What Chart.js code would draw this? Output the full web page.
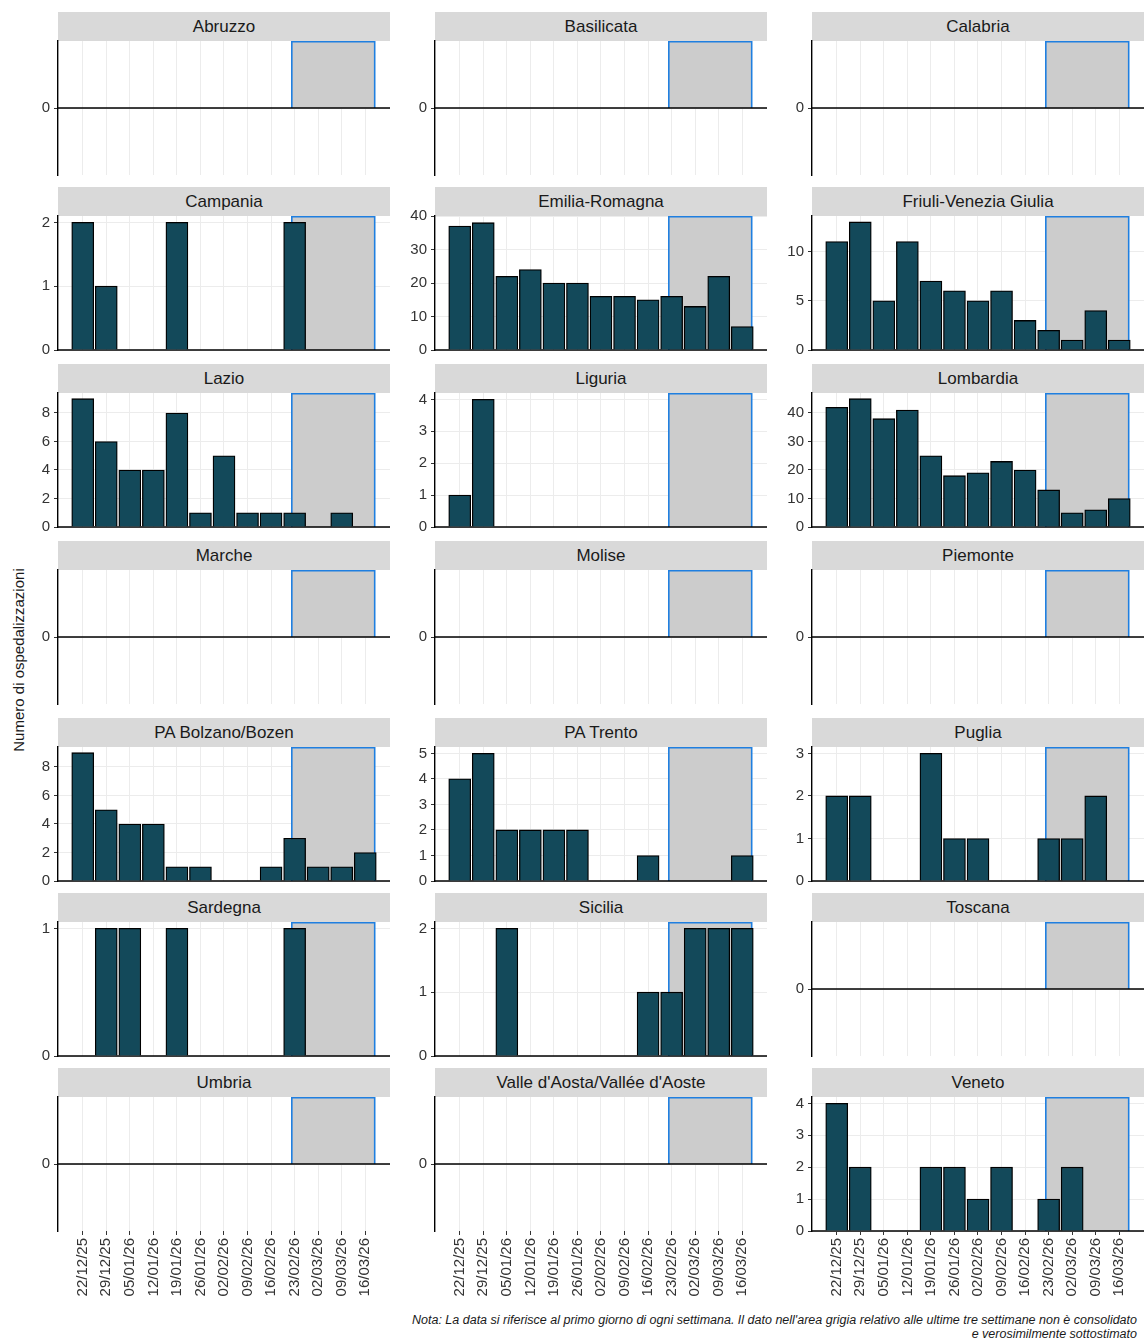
<!DOCTYPE html>
<html>
<head>
<meta charset="utf-8">
<script src="https://cdn.jsdelivr.net/npm/chart.js@4/dist/chart.umd.min.js"></script>
<style>
  body { margin: 0; background: #fff; font-family: "Liberation Sans", Arial, sans-serif; }
  #wrap { position: relative; width: 1147px; height: 1342px; }
  .strip { position: absolute; background: #d9d9d9; color: #1a1a1a; font-size: 17px;
           text-align: center; line-height: 29px; height: 29px; }
  .box { position: absolute; }
  #ylab { position: absolute; left: 18px; top: 660px; transform: translate(-50%, -50%) rotate(-90deg);
          font-size: 15px; white-space: nowrap; color: #1a1a1a; }
  #note { position: absolute; right: 10px; top: 1313px; font-size: 12.5px; font-style: italic;
          text-align: right; line-height: 14px; color: #1a1a1a; }
</style>
</head>
<body>
<div id="wrap">
  <div id="ylab">Numero di ospedalizzazioni</div>
  <div id="note">Nota: La data si riferisce al primo giorno di ogni settimana. Il dato nell'area grigia relativo alle ultime tre settimane non è consolidato<br>e verosimilmente sottostimato</div>
</div>
<script>
const weeks = ['22/12/25', '29/12/25', '05/01/26', '12/01/26', '19/01/26', '26/01/26', '02/02/26',
               '09/02/26', '16/02/26', '23/02/26', '02/03/26', '09/03/26', '16/03/26'];

const regions = ['Abruzzo', 'Basilicata', 'Calabria', 'Campania', 'Emilia-Romagna', 'Friuli-Venezia Giulia',
                 'Lazio', 'Liguria', 'Lombardia', 'Marche', 'Molise', 'Piemonte',
                 'PA Bolzano/Bozen', 'PA Trento', 'Puglia', 'Sardegna', 'Sicilia', 'Toscana',
                 'Umbria', "Valle d'Aosta/Vallée d'Aoste", 'Veneto'];

const zeros = [0, 0, 0, 0, 0, 0, 0, 0, 0, 0, 0, 0, 0];
const campania = [2, 1, 0, 0, 2, 0, 0, 0, 0, 2, 0, 0, 0];
const emilia = [37, 38, 22, 24, 20, 20, 16, 16, 15, 16, 13, 22, 7];
const friuli = [11, 13, 5, 11, 7, 6, 5, 6, 3, 2, 1, 4, 1];
const lazio = [9, 6, 4, 4, 8, 1, 5, 1, 1, 1, 0, 1, 0];
const liguria = [1, 4, 0, 0, 0, 0, 0, 0, 0, 0, 0, 0, 0];
const lombardia = [42, 45, 38, 41, 25, 18, 19, 23, 20, 13, 5, 6, 10];
const bolzano = [9, 5, 4, 4, 1, 1, 0, 0, 1, 3, 1, 1, 2];
const trento = [4, 5, 2, 2, 2, 2, 0, 0, 1, 0, 0, 0, 1];
const puglia = [2, 2, 0, 0, 3, 1, 1, 0, 0, 1, 1, 2, 0];
const sardegna = [0, 1, 1, 0, 1, 0, 0, 0, 0, 1, 0, 0, 0];
const sicilia = [0, 0, 2, 0, 0, 0, 0, 0, 1, 1, 2, 2, 2];
const veneto = [4, 2, 0, 0, 2, 2, 1, 2, 0, 1, 2, 0, 0];

const values = [zeros, zeros, zeros, campania, emilia, friuli, lazio, liguria, lombardia,
                zeros, zeros, zeros, bolzano, trento, puglia, sardegna, sicilia, zeros,
                zeros, zeros, veneto];
// y max and tick step per panel (null = all zero panel)
const yMax = [null, null, null, 2.1, 40, 13.6, 9.4, 4.2, 47, null, null, null,
              9.4, 5.25, 3.15, 1.05, 2.1, null, null, null, 4.2];
const yStep = [null, null, null, 1, 10, 5, 2, 1, 10, null, null, null,
               2, 1, 1, 1, 1, null, null, null, 1];

// grey "not consolidated" area, in week-index units
const greyFrom = 8.88;
const greyTo = 12.4;

const colLeft = [58, 435, 812];
const plotW = 332;
const rowTop = [12, 187, 364, 541, 718, 893, 1068];
const stripH = 29;
const plotH = 134;
const axisW = 45;
const pad = 9;

const greyPlugin = {
  id: 'grey',
  beforeDatasetsDraw(chart) {
    const x = chart.scales.x, y = chart.scales.y, ctx = chart.ctx;
    const x0 = x.getPixelForValue(greyFrom), x1 = x.getPixelForValue(greyTo);
    const top = chart.chartArea.top + 0.8, bot = y.getPixelForValue(0);
    ctx.save();
    ctx.fillStyle = '#cccccc';
    ctx.fillRect(x0, top, x1 - x0, bot - top);
    ctx.strokeStyle = '#1f7fe0';
    ctx.lineWidth = 1.6;
    ctx.beginPath();
    ctx.moveTo(x0, bot); ctx.lineTo(x0, top); ctx.lineTo(x1, top); ctx.lineTo(x1, bot);
    ctx.stroke();
    ctx.strokeStyle = '#000';
    ctx.lineWidth = 1.4;
    ctx.beginPath();
    ctx.moveTo(chart.chartArea.left, bot); ctx.lineTo(chart.chartArea.right, bot);
    ctx.stroke();
    ctx.restore();
  }
};

const noPad = s => { s.paddingTop = 0; s.paddingBottom = 0; s.paddingLeft = 0; s.paddingRight = 0; };

const wrap = document.getElementById('wrap');
regions.forEach((name, i) => {
  const col = i % 3, row = Math.floor(i / 3);
  const bottom = row === 6;
  const strip = document.createElement('div');
  strip.className = 'strip';
  strip.style.left = colLeft[col] + 'px';
  strip.style.top = rowTop[row] + 'px';
  strip.style.width = plotW + 'px';
  strip.textContent = name;
  wrap.appendChild(strip);

  const xH = bottom ? 80 : pad;
  const box = document.createElement('div');
  box.className = 'box';
  box.style.left = (colLeft[col] - axisW) + 'px';
  box.style.top = (rowTop[row] + stripH - pad) + 'px';
  box.style.width = (plotW + axisW) + 'px';
  box.style.height = (plotH + pad + xH) + 'px';
  const cv = document.createElement('canvas');
  box.appendChild(cv);
  wrap.appendChild(box);

  const zero = yMax[i] === null;
  new Chart(cv, {
    type: 'bar',
    data: {
      datasets: [{
        data: values[i].map((v, k) => ({ x: k, y: v })).filter(p => p.y > 0),
        backgroundColor: '#13495a',
        borderColor: '#000',
        borderWidth: 1.3,
        barThickness: 22,
        grouped: false
      }]
    },
    options: {
      animation: false,
      responsive: true,
      maintainAspectRatio: false,
      layout: { padding: { top: pad, left: 0, right: 0, bottom: 0 }, autoPadding: false },
      plugins: { legend: { display: false }, tooltip: { enabled: false } },
      scales: {
        x: {
          type: 'linear',
          offset: false,
          min: -1.05,
          max: 13.05,
          afterBuildTicks: s => { s.ticks = weeks.map((w, k) => ({ value: k })); },
          afterFit: s => { s.height = xH; noPad(s); },
          border: { display: false },
          grid: { offset: false, color: '#ececec', lineWidth: 1, drawTicks: bottom, tickLength: 4, tickColor: '#333' },
          ticks: {
            display: bottom,
            minRotation: 90, maxRotation: 90,
            autoSkip: false,
            color: '#333',
            font: { family: 'Liberation Sans', size: 15 },
            callback: v => weeks[v]
          }
        },
        y: {
          min: zero ? -1 : 0,
          max: zero ? 1 : yMax[i],
          afterBuildTicks: s => {
            if (zero) { s.ticks = [{ value: 0 }]; return; }
            const t = [];
            for (let v = 0; v <= yMax[i] + 1e-9; v += yStep[i]) t.push({ value: v });
            s.ticks = t;
          },
          afterFit: s => { s.width = axisW; noPad(s); },
          border: { display: true, color: '#000', width: 1.4 },
          grid: { color: '#ececec', drawTicks: true, tickLength: 4, tickColor: '#333' },
          ticks: { color: '#333', padding: 4, font: { family: 'Liberation Sans', size: 15 } }
        }
      }
    },
    plugins: [greyPlugin]
  });
});
</script>
</body>
</html>
